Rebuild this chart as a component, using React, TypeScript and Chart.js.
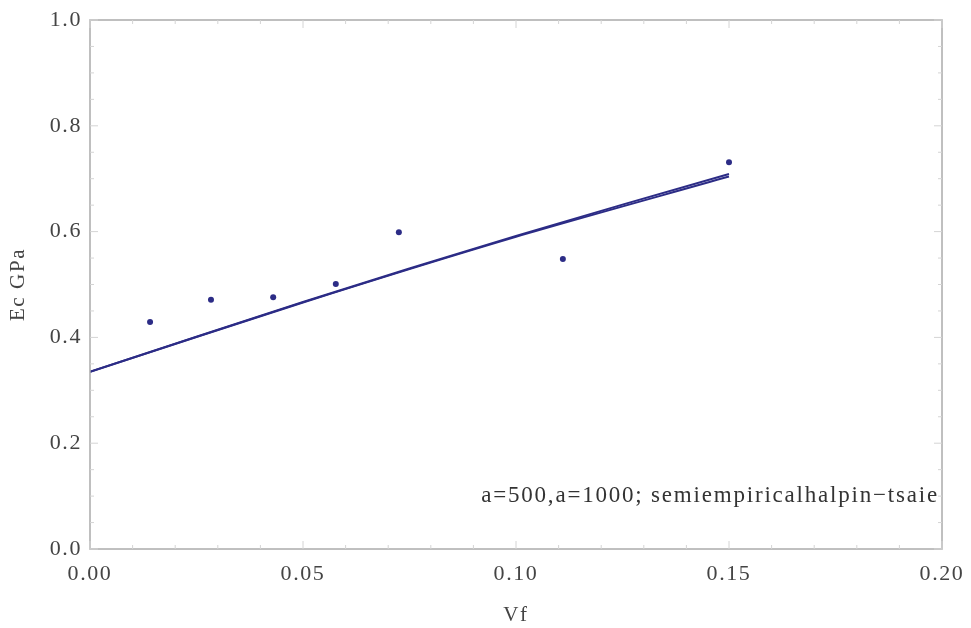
import React, { useEffect, useRef } from "react";
import { Chart, registerables } from "chart.js";

Chart.register(...registerables);

const vfPoints = [0.0141, 0.0284, 0.043, 0.0577, 0.0725, 0.111, 0.15];
const ecPoints = [0.429, 0.471, 0.476, 0.501, 0.599, 0.548, 0.731];

const vfLine = [0, 0.05, 0.1, 0.15];
const ecLine500 = [0.335, 0.466, 0.59, 0.704];
const ecLine1000 = [0.335, 0.467, 0.592, 0.709];

const xTicks = [0, 0.05, 0.1, 0.15, 0.2];
const yTicks = [0, 0.2, 0.4, 0.6, 0.8, 1.0];

const annotationText = "a=500,a=1000; semiempiricalhalpin\u2212tsaie";
const xTitle = "Vf";
const yTitle = "Ec GPa";

const MARK = "#2c2c86";
const FONT = "'Liberation Serif', 'Times New Roman', serif";
const SPACING = "1.6px";

const spacingPlugin = {
  id: "spacing",
  beforeInit(chart: any) {
    chart.ctx.letterSpacing = SPACING;
  },
  beforeUpdate(chart: any) {
    chart.ctx.letterSpacing = SPACING;
  },
  beforeLayout(chart: any) {
    chart.ctx.letterSpacing = SPACING;
  },
  beforeDraw(chart: any) {
    chart.ctx.letterSpacing = SPACING;
  },
};

const framePlugin = {
  id: "frame",
  afterDraw(chart: any) {
    const { ctx, chartArea } = chart;
    const { left, right, top, bottom } = chartArea;
    ctx.save();
    ctx.strokeStyle = "#ababab";
    ctx.lineWidth = 1.5;
    ctx.strokeRect(left, top, right - left, bottom - top);
    const xs = chart.scales.x;
    const ys = chart.scales.y;
    ctx.strokeStyle = "#d4d4d4";
    ctx.lineWidth = 1;
    for (let i = 0; i <= 20; i++) {
      const v = i * 0.01;
      const px = xs.getPixelForValue(v);
      const len = i % 5 === 0 ? 8 : 4;
      ctx.beginPath();
      ctx.moveTo(px, bottom);
      ctx.lineTo(px, bottom - len);
      ctx.moveTo(px, top);
      ctx.lineTo(px, top + len);
      ctx.stroke();
    }
    for (let i = 0; i <= 20; i++) {
      const v = i * 0.05;
      const py = ys.getPixelForValue(v);
      const len = i % 4 === 0 ? 8 : 4;
      ctx.beginPath();
      ctx.moveTo(left, py);
      ctx.lineTo(left + len, py);
      ctx.moveTo(right, py);
      ctx.lineTo(right - len, py);
      ctx.stroke();
    }
    ctx.fillStyle = "#333333";
    ctx.font = `23px ${FONT}`;
    ctx.letterSpacing = "1.8px";
    ctx.textAlign = "right";
    ctx.textBaseline = "middle";
    ctx.fillText(annotationText, right - 3, ys.getPixelForValue(0.1));
    ctx.restore();
  },
};

export default function App() {
  const ref = useRef<HTMLCanvasElement>(null);
  useEffect(() => {
    document.body.style.margin = "0";
    const canvas = ref.current!;
    const chart = new Chart(canvas, {
      type: "scatter",
      data: {
        datasets: [
          {
            type: "line",
            data: vfLine.map((x, i) => ({ x, y: ecLine500[i] })),
            borderColor: MARK,
            borderWidth: 2,
            pointRadius: 0,
            showLine: true,
            tension: 0.3,
          } as any,
          {
            type: "line",
            data: vfLine.map((x, i) => ({ x, y: ecLine1000[i] })),
            borderColor: MARK,
            borderWidth: 2,
            pointRadius: 0,
            showLine: true,
            tension: 0.3,
          } as any,
          {
            data: vfPoints.map((x, i) => ({ x, y: ecPoints[i] })),
            backgroundColor: MARK,
            borderColor: MARK,
            pointRadius: 3,
            borderWidth: 0,
          },
        ],
      },
      options: {
        animation: false,
        responsive: false,
        layout: { padding: { left: 0, top: 20, right: 29, bottom: 0 } },
        plugins: { legend: { display: false }, tooltip: { enabled: false } },
        scales: {
          x: {
            type: "linear",
            min: 0,
            max: 0.2,
            afterBuildTicks: (s: any) => {
              s.ticks = xTicks.map((v) => ({ value: v }));
            },
            afterFit: (s: any) => {
              s.height = 79;
              s.paddingLeft = 0;
              s.paddingRight = 0;
            },
            grid: { display: false, drawTicks: false },
            border: { display: false },
            ticks: {
              color: "#444",
              font: { family: FONT, size: 22 },
              padding: 12,
              maxRotation: 0,
              callback: (v: any) => Number(v).toFixed(2),
            },
            title: {
              display: true,
              text: xTitle,
              color: "#444",
              font: { family: FONT, size: 21 },
              padding: { top: 2, bottom: 0 },
            },
          },
          y: {
            type: "linear",
            min: 0,
            max: 1,
            afterBuildTicks: (s: any) => {
              s.ticks = yTicks.map((v) => ({ value: v }));
            },
            afterFit: (s: any) => {
              s.width = 90;
              s.paddingTop = 0;
              s.paddingBottom = 0;
            },
            grid: { display: false, drawTicks: false },
            border: { display: false },
            ticks: {
              color: "#444",
              font: { family: FONT, size: 22 },
              padding: 8,
              callback: (v: any) => Number(v).toFixed(1),
            },
            title: {
              display: true,
              text: yTitle,
              color: "#444",
              font: { family: FONT, size: 21 },
              padding: { top: 6, bottom: 0 },
            },
          },
        },
      },
      plugins: [spacingPlugin, framePlugin],
    } as any);
    return () => chart.destroy();
  }, []);
  return (
    <div style={{ width: 971, height: 628, background: "#fff" }}>
      <canvas ref={ref} width={971} height={628} style={{ display: "block" }} />
    </div>
  );
}
